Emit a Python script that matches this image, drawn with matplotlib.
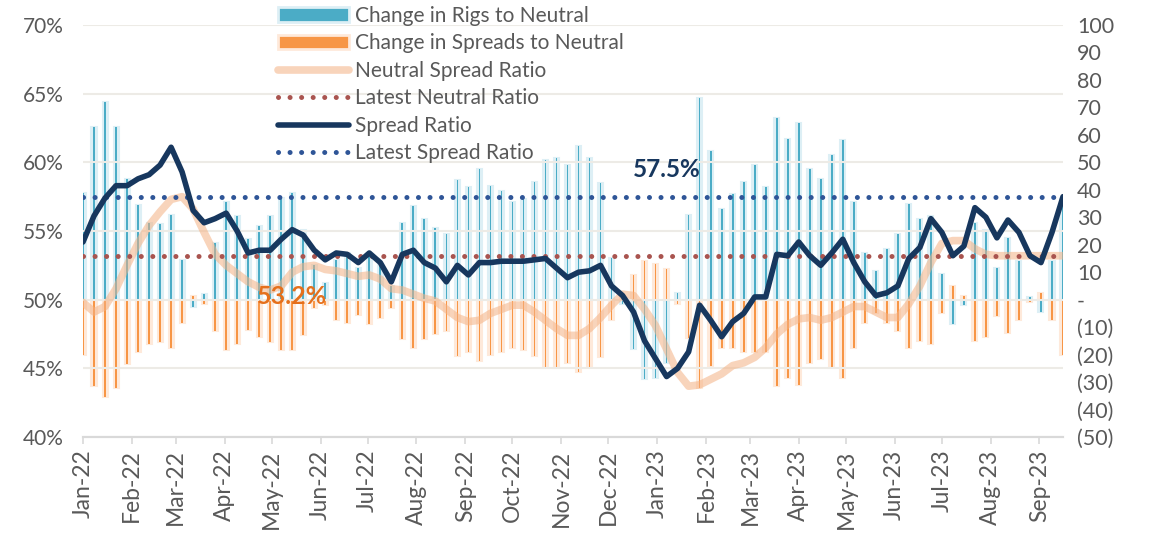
import numpy as np
import pandas as pd
import matplotlib
matplotlib.use('Agg')
import matplotlib.pyplot as plt
import matplotlib.dates as mdates
from matplotlib.patches import Patch
from matplotlib.lines import Line2D
from matplotlib.ticker import FuncFormatter, MultipleLocator

plt.rcParams['font.family'] = ['Lato', 'DejaVu Sans']

# weekly observations, Jan-22 .. Sep-23
dates = pd.date_range('2022-01-01', periods=90, freq='7D')

rigs_change = [39, 63, 72, 63, 44, 34.5, 28, 27.5, 31, 14.5,
               -2.5, 2, 20.5, 35.5, 30.5, 22, 27, 30.5, 37, 39,
               25.5, 12.5, 6, 14.5, 17, 11.5, 15.5, 12.5, 5, 28,
               34, 29.5, 26, 24, 43.5, 41, 47.5, 41.5, 39.5, 35.5,
               36.5, 43, 51, 51.5, 49, 56, 51.5, 42.5, 15, -1.5,
               -18, -29, -28.5, -23, 2.5, 31, 73.5, 54, 33, 38.5,
               43, 49, 41, 66, 58.5, 64.5, 47.5, 44, 52.5, 58,
               35.5, 17, 10.5, 18.5, 24, 35, 29.5, 30.5, 9.5, -9,
               -2, 28, 25.5, 11.5, 22.5, 14, 1, -4.5, 14, 36.5]

spreads_change = [-20, -31.5, -35.5, -32, -23.5, -19, -16, -15.5, -17.5, -8.5,
                  1.5, -1.5, -11.5, -18.5, -16, -11, -13.5, -15.5, -18.5, -18.5,
                  -13, -3, -2, -7.5, -8.5, -5.5, -9, -6.5, -3, -14.5,
                  -17.5, -14.5, -12.5, -11.5, -20.5, -19, -22.5, -20, -19, -17.5,
                  -18.5, -20.5, -25, -25, -23, -26.5, -24.5, -21, -7.5, 1,
                  9, 14, 13, 11, -1.5, -14, -32, -24, -17.5, -17.5,
                  -19, -19, -19, -31.5, -28.5, -31, -23, -21.5, -25, -28.5,
                  -17.5, -8.5, -5, -8.5, -11.5, -17.5, -15, -16, -5, 5,
                  1.5, -15, -13.5, -6, -12, -7.5, -1, 2.5, -7.5, -20]

neutral_ratio = [49.8, 49.1, 49.5, 50.8, 52.5, 54.1, 55.4, 56.4, 57.3, 57.5,
                 56.6, 54.9, 53.3, 52.5, 51.9, 51.3, 50.9, 50.7, 51.0, 52.0,
                 52.4, 52.5, 52.2, 52.1, 51.9, 51.7, 51.8, 51.5, 50.8, 50.7,
                 50.4, 50.1, 49.9, 49.3, 48.7, 48.4, 48.5, 49.0, 49.3, 49.6,
                 49.6, 49.1, 48.5, 47.9, 47.4, 47.4, 47.9, 48.7, 49.6, 50.4,
                 50.3, 49.3, 48.1, 46.4, 44.7, 43.7, 43.8, 44.2, 44.6, 45.2,
                 45.4, 45.8, 46.5, 47.5, 48.2, 48.6, 48.7, 48.5, 48.7, 49.1,
                 49.5, 49.5, 49.1, 48.7, 48.7, 49.7, 51.0, 52.7, 54.1, 54.3,
                 54.3, 53.7, 53.3, 53.2, 53.2, 53.2, 53.2, 53.2, 53.2, 53.2]

spread_ratio = [54.2, 56.1, 57.4, 58.3, 58.3, 58.8, 59.1, 59.8, 61.1, 59.3,
                56.5, 55.6, 55.9, 56.3, 55.0, 53.4, 53.6, 53.6, 54.4, 55.1,
                54.7, 53.6, 52.9, 53.4, 53.3, 52.7, 53.4, 52.7, 51.3, 53.3,
                53.6, 52.7, 52.3, 51.3, 52.5, 51.8, 52.7, 52.7, 52.8, 52.8,
                52.8, 52.9, 53.0, 52.3, 51.6, 52.0, 52.1, 52.5, 51.0, 50.3,
                49.1, 47.0, 45.7, 44.4, 45.0, 46.2, 49.6, 48.5, 47.3, 48.4,
                49.0, 50.2, 50.2, 53.3, 53.2, 54.2, 53.2, 52.5, 53.4, 54.4,
                52.7, 51.3, 50.3, 50.5, 51.0, 53.0, 53.8, 55.9, 54.9, 53.2,
                53.9, 56.7, 56.0, 54.5, 55.8, 54.9, 53.2, 52.7, 54.9, 57.5]

latest_neutral = neutral_ratio[-1]
latest_spread = spread_ratio[-1]
n = len(dates)

text_col = '#595959'
blue, blue_halo = '#4BACC6', '#DDEFF5'
orange, orange_halo = '#F79646', '#FEE9DA'
navy = '#17375E'
peach = '#F4B183'
red_dot = '#A9544F'
blue_dot = '#2F5597'
dots = (0, (0.01, 2.3))

fig = plt.figure(figsize=(11.49, 5.40), dpi=100)
ax = fig.add_axes([83 / 1149, 103 / 540, 980 / 1149, 412 / 540])
ax2 = ax.twinx()
ax.set_zorder(ax2.get_zorder() + 1)
ax.patch.set_visible(False)

# bars with a soft glow around them (right axis)
ax2.bar(dates, rigs_change, width=3.2, color=blue_halo, edgecolor=blue_halo, linewidth=1.5, zorder=1)
ax2.bar(dates, spreads_change, width=3.2, color=orange_halo, edgecolor=orange_halo, linewidth=1.5, zorder=1)
ax2.bar(dates, rigs_change, width=1.1, color=blue, zorder=2)
ax2.bar(dates, spreads_change, width=1.1, color=orange, zorder=2)

# ratio lines (left axis)
ax.plot(dates, neutral_ratio, color=peach, lw=5.5, alpha=0.55, solid_capstyle='round', zorder=3)
ax.plot(dates, [latest_neutral] * n, color=red_dot, lw=3.6, ls=dots, dash_capstyle='round', zorder=4)
ax.plot(dates, [latest_spread] * n, color=blue_dot, lw=3.6, ls=dots, dash_capstyle='round', zorder=4)
ax.plot(dates, spread_ratio, color=navy, lw=4, solid_capstyle='round', zorder=5)

ax.text(dates[19], 50.2, f'{latest_neutral:.1f}%', color='#E5701C', fontsize=18,
        fontweight='bold', ha='center', va='center', zorder=6)
ax.text(dates[53], 59.45, f'{latest_spread:.1f}%', color=navy, fontsize=17.5,
        fontweight='bold', ha='center', va='center', zorder=6)

# axes styling
ax.set_xlim(dates[0], dates[-1])
ax.set_ylim(40, 70)
ax2.set_ylim(-50, 100)
ax.yaxis.set_major_locator(MultipleLocator(5))
ax.yaxis.set_major_formatter(FuncFormatter(lambda v, p: f'{v:.0f}%'))
ax2.yaxis.set_major_locator(MultipleLocator(10))


def acct(v, p):
    if abs(v) < 1e-9:
        return '-'
    if v < 0:
        return f'({abs(v):.0f})'
    return f'{v:.0f}'


ax2.yaxis.set_major_formatter(FuncFormatter(acct))
ax.grid(axis='y', color='#EDEBE6', lw=1.5)
ax.set_axisbelow(True)

ax.xaxis.set_major_locator(mdates.MonthLocator())
ax.xaxis.set_major_formatter(mdates.DateFormatter('%b-%y'))

for a in (ax, ax2):
    for s in ('top', 'left', 'right'):
        a.spines[s].set_visible(False)
    a.spines['bottom'].set_color('#D9D9D9')
    a.spines['bottom'].set_linewidth(1.5)

ax.tick_params(axis='x', colors='#D9D9D9', labelcolor=text_col, labelsize=16.5,
               length=5, width=1.2, pad=4)
ax.tick_params(axis='y', length=0, labelcolor=text_col, labelsize=15, pad=14)
ax2.tick_params(axis='y', length=0, labelcolor=text_col, labelsize=15.5, pad=10)
plt.setp(ax.get_xticklabels(), rotation=90)

handles = [
    Patch(facecolor=blue, edgecolor=blue_halo, linewidth=2),
    Patch(facecolor=orange, edgecolor=orange_halo, linewidth=2),
    Line2D([], [], color=peach, lw=5.5, alpha=0.55, solid_capstyle='round'),
    Line2D([], [], color=red_dot, lw=3.6, ls=dots, dash_capstyle='round'),
    Line2D([], [], color=navy, lw=4, solid_capstyle='round'),
    Line2D([], [], color=blue_dot, lw=3.6, ls=dots, dash_capstyle='round'),
]
labels = ['Change in Rigs to Neutral', 'Change in Spreads to Neutral',
          'Neutral Spread Ratio', 'Latest Neutral Ratio', 'Spread Ratio',
          'Latest Spread Ratio']
leg = fig.legend(handles, labels, loc='upper left', bbox_to_anchor=(0.242, 0.989),
                 frameon=False, fontsize=15, labelspacing=0.36, handlelength=3.4,
                 handletextpad=0.3, borderpad=0, borderaxespad=0)
for t in leg.get_texts():
    t.set_color(text_col)

fig.savefig('out.png', dpi=100)
